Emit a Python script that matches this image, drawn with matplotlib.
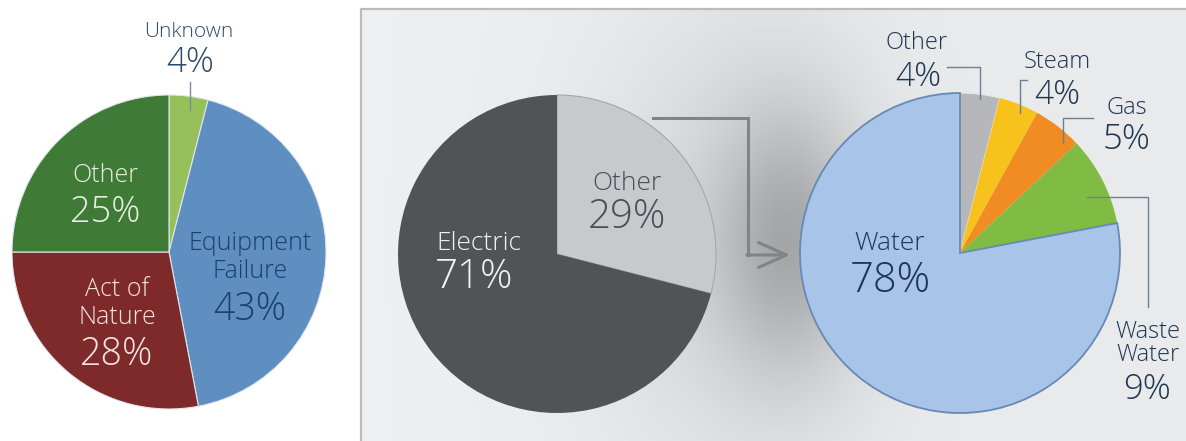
import matplotlib
matplotlib.use("Agg")
import matplotlib.pyplot as plt
import numpy as np

# ---------------------------------------------------------
# data
# ---------------------------------------------------------
cause_labels = ["Unknown", "Equipment\nFailure", "Act of\nNature", "Other"]
cause_values = [4, 43, 28, 25]
cause_colors = ["#95c05a", "#5e8fc0", "#7e2a2a", "#3f7b37"]

type_labels = ["Other", "Electric"]
type_values = [29, 71]
type_colors = ["#c7cacd", "#505457"]

other_labels = ["Other", "Steam", "Gas", "Waste\nWater", "Water"]
other_values = [4, 4, 5, 9, 78]
other_colors = ["#b5b7b9", "#f7c21c", "#f08c22", "#80bc44", "#a8c5e9"]

W, H = 1186, 441
plt.rcParams['font.family'] = ['Open Sans', 'DejaVu Sans']

fig = plt.figure(figsize=(W / 100, H / 100), dpi=100)
ax = fig.add_axes([0, 0, 1, 1])


def Y(y):
    # pixel row -> data y (y up)
    return H - y


def label(x, y, s, size, color):
    ax.text(x, Y(y), s, ha='center', va='center', fontsize=size, color=color,
            fontweight='light')


# ---------------------------------------------------------
# grey panel with shadow behind the right pie
# ---------------------------------------------------------
px0, py0 = 361, 9
xx, yy = np.meshgrid(np.arange(px0, W), np.arange(py0, H))
shade = 0.945 - 0.02 * (xx - px0) / (W - px0)
shade = shade - 0.19 * np.exp(-((xx - 790) / 70) ** 2 - ((yy - 240) / 130) ** 2)
shade = shade - 0.10 * np.exp(-((xx - 740) / 150) ** 2 - ((yy - 240) / 230) ** 2)
bg = np.dstack([shade * 0.985, shade * 0.993, shade])
ax.imshow(np.clip(bg, 0, 1), extent=[px0, W, 0, Y(py0)], origin='upper',
          zorder=0, interpolation='bilinear')
ax.plot([px0, px0, W], [0, Y(py0), Y(py0)], color="#b9bbbd", lw=1.6, zorder=1)

# ---------------------------------------------------------
# 1) causes pie
# ---------------------------------------------------------
w1, _ = ax.pie(cause_values, colors=cause_colors, startangle=90, counterclock=False,
               center=(169, Y(252)), radius=157,
               wedgeprops=dict(edgecolor="#dfe6ee", linewidth=0.8))

label(189, 32, cause_labels[0], 15, "#2e4a6b")
label(190, 63, f"{cause_values[0]}%", 25, "#2e4a6b")
ax.plot([190, 190], [Y(82), Y(110)], color="#7d8c9b", lw=1)

label(105, 175, cause_labels[3], 18, "#e8efdf")
label(105, 212, f"{cause_values[3]}%", 26, "#e8efdf")

for i, t in enumerate(cause_labels[1].split("\n")):
    label(250, 243 + 29 * i, t, 18, "#1d3f6a")
label(250, 310, f"{cause_values[1]}%", 27, "#1d3f6a")

for i, t in enumerate(cause_labels[2].split("\n")):
    label(117, 290 + 28 * i, t, 18, "#f2e4e2")
label(117, 355, f"{cause_values[2]}%", 27, "#f2e4e2")

# ---------------------------------------------------------
# 2) electric vs other pie
# ---------------------------------------------------------
w2, _ = ax.pie(type_values, colors=type_colors, startangle=90, counterclock=False,
               center=(557, Y(254)), radius=159,
               wedgeprops=dict(edgecolor="none", linewidth=0))
w2[0].set_edgecolor("#a3a7ab")
w2[0].set_linewidth(0.8)

label(627, 183, type_labels[0], 19, "#4b4e52")
label(627, 218, f"{type_values[0]}%", 29, "#4b4e52")
label(479, 243, type_labels[1], 19, "#f2f2f2")
label(474, 278, f"{type_values[1]}%", 29, "#f2f2f2")

# elbow arrow between the pies
arrow_c = "#818487"
ax.plot([653, 748, 748], [Y(118), Y(118), Y(255)], color=arrow_c, lw=2.2,
        solid_joinstyle='miter')
ax.annotate("", xy=(790, Y(255)), xytext=(747, Y(255)),
            arrowprops=dict(arrowstyle="->,head_length=1.0,head_width=0.45",
                            mutation_scale=20, color=arrow_c, lw=2.2,
                            shrinkA=0, shrinkB=0))

# ---------------------------------------------------------
# 3) breakdown of "other"
# ---------------------------------------------------------
w3, _ = ax.pie(other_values, colors=other_colors, startangle=90, counterclock=False,
               center=(960, Y(253)), radius=160,
               wedgeprops=dict(edgecolor="none", linewidth=0))
w3[-1].set_edgecolor("#6789b5")
w3[-1].set_linewidth(1.3)
w3[0].set_edgecolor("#e6e8ea")
w3[0].set_linewidth(0.8)

txt_c = "#1f3552"
lead_c = "#6b7f95"
label(890, 243, other_labels[4], 19, txt_c)
label(890, 281, f"{other_values[4]}%", 30, txt_c)

label(917, 43, other_labels[0], 17, txt_c)
label(918, 77, f"{other_values[0]}%", 24, txt_c)
ax.plot([947, 980, 980], [Y(67), Y(67), Y(99)], color=lead_c, lw=1)

label(1057, 62, other_labels[1], 17, txt_c)
label(1057, 95, f"{other_values[1]}%", 24, txt_c)
ax.plot([1027, 1020, 1020], [Y(80), Y(80), Y(113)], color=lead_c, lw=1)

label(1127, 108, other_labels[2], 17, txt_c)
label(1127, 140, f"{other_values[2]}%", 25, txt_c)
ax.plot([1093, 1063, 1063], [Y(118), Y(118), Y(143)], color=lead_c, lw=1)

for i, t in enumerate(other_labels[3].split("\n")):
    label(1148, 332 + 23 * i, t, 17, txt_c)
label(1147, 390, f"{other_values[3]}%", 25, txt_c)
ax.plot([1087, 1148, 1148], [Y(197), Y(197), Y(307)], color=lead_c, lw=1)

ax.set_aspect('auto')
ax.set_xlim(0, W)
ax.set_ylim(0, H)
ax.axis('off')

fig.savefig("out.png", dpi=100, facecolor="white")
